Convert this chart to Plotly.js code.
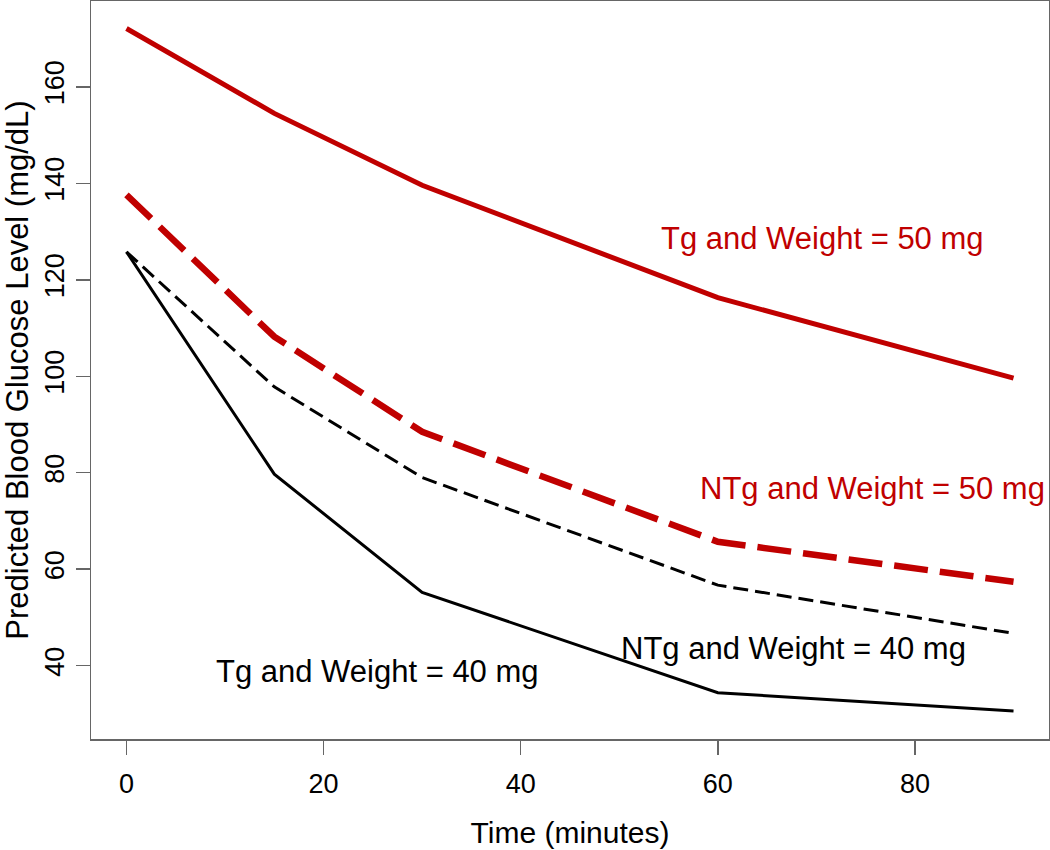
<!DOCTYPE html>
<html>
<head>
<meta charset="utf-8">
<script src="https://cdn.plot.ly/plotly-3.0.1.min.js"></script>
<style>html,body{margin:0;padding:0;background:#fff;}#chart{width:1050px;height:850px;}</style>
</head>
<body>
<div id="chart"></div>
<script>
// Time points (minutes)
const time = [0, 15, 30, 60, 90];

// Predicted blood glucose (mg/dL)
const tg50  = [172.1, 154.5, 139.6, 116.3, 99.6];
const ntg50 = [137.6, 108.2, 88.5, 65.7, 57.4];
const ntg40 = [125.8, 97.8, 79.0, 56.7, 46.7];
const tg40  = [125.8, 79.7, 55.2, 34.4, 30.6];

// Line labels
const labelText = ["Tg and Weight = 50 mg", "NTg and Weight = 50 mg", "NTg and Weight = 40 mg", "Tg and Weight = 40 mg"];
const labelX = [70.6, 75.7, 67.7, 25.5];
const labelY = [128.6, 76.8, 43.6, 38.8];
const labelColor = ["#c00000", "#c00000", "#000000", "#000000"];

const xTicks = [0, 20, 40, 60, 80];
const yTicks = [40, 60, 80, 100, 120, 140, 160];

const RED = "#c00000";
const traces = [
  {x: time, y: tg50,  mode: "lines", line: {color: RED, width: 5}},
  {x: time, y: ntg50, mode: "lines", line: {color: RED, width: 6.5, dash: "34px,12px"}},
  {x: time, y: ntg40, mode: "lines", line: {color: "#000", width: 3, dash: "15px,7px"}},
  {x: time, y: tg40,  mode: "lines", line: {color: "#000", width: 3}}
];

const annotations = labelText.map((t, i) => ({
  x: labelX[i], y: labelY[i], xref: "x", yref: "y", text: t, showarrow: false,
  font: {family: "Liberation Sans, Arial, sans-serif", size: 31, color: labelColor[i]},
  xanchor: "center", yanchor: "middle"
}));

const axisCommon = {
  showgrid: false, zeroline: false, showline: true, mirror: true,
  linecolor: "#666", linewidth: 1.5,
  ticks: "outside", ticklen: 14, tickwidth: 1.5, tickcolor: "#666",
  tickfont: {family: "Liberation Sans, Arial, sans-serif", size: 27, color: "#000"}
};

const layout = {
  width: 1050, height: 850,
  margin: {l: 91, r: 1, t: 1, b: 111},
  paper_bgcolor: "#fff", plot_bgcolor: "#fff",
  showlegend: false,
  font: {family: "Liberation Sans, Arial, sans-serif", color: "#000"},
  xaxis: Object.assign({}, axisCommon, {
    range: [-3.6, 93.6], tickmode: "array", tickvals: xTicks, ticktext: xTicks.map(String),
    ticklabelstandoff: 6,
    title: {text: "Time (minutes)", font: {size: 30, color: "#000"}, standoff: 24}
  }),
  yaxis: Object.assign({}, axisCommon, {
    range: [24.8, 177.8], tickmode: "array", tickvals: yTicks, ticktext: yTicks.map(String),
    tickangle: -90, ticklabelstandoff: 1,
    title: {text: "Predicted Blood Glucose Level (mg/dL)", font: {size: 31, color: "#000"}, standoff: 3}
  }),
  annotations: annotations
};

Plotly.newPlot("chart", traces, layout, {displayModeBar: false, staticPlot: true});
</script>
</body>
</html>
